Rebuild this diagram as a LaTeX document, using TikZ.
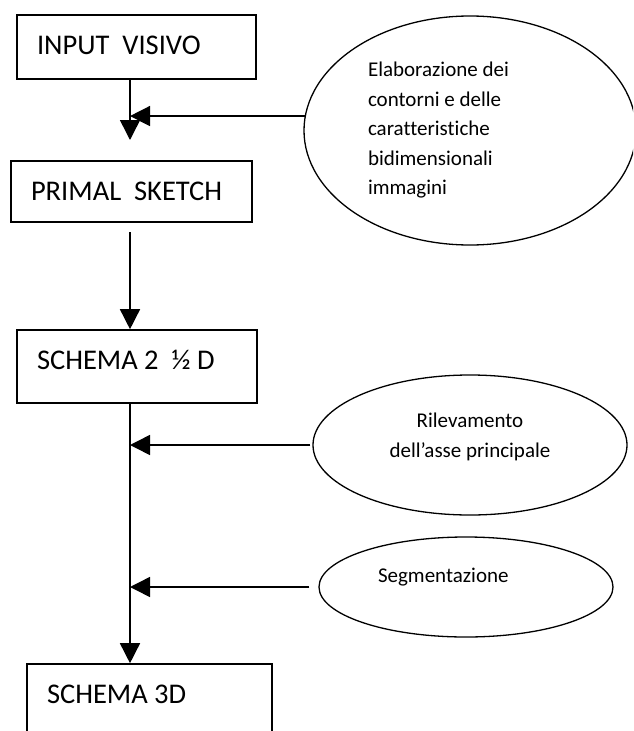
\documentclass[tikz,border=0pt]{standalone}
\usepackage{fontspec}
\setmainfont{Carlito}[Ligatures=NoCommon]
\usetikzlibrary{shapes,arrows.meta,positioning}

\begin{document}
\begin{tikzpicture}[
    x=1pt, y=-1pt,
    stage/.style={rectangle, draw=black, line width=1.6pt, inner xsep=20pt, text width=200pt, align=flush left, text height=18pt, font=\fontsize{28.5}{34}\selectfont},
    process/.style={ellipse, draw=black, line width=1.3pt, inner sep=0pt, font=\fontsize{21}{29.5}\selectfont},
    flow/.style={line width=1.5pt, -{Triangle[length=20pt,width=20pt]}}
]
\clip (0,0) rectangle (633,731);

% Stages of the pipeline
\node[stage, text width=199pt, minimum height=64pt, text depth=4pt] (input) at (136.5,47) {INPUT\ \ VISIVO};
\node[stage, text width=201pt, minimum height=61pt, text depth=1pt] (sketch) at (131.5,191.5) {PRIMAL\ \ SKETCH};
\node[stage, minimum height=73pt, text depth=13pt] (schema25) at (137,366.5) {SCHEMA 2\ \ ½ D};
\node[stage, text width=205pt, inner ysep=21pt, text depth=60pt] (schema3) at (149.5,724) {SCHEMA 3D};

% Processes feeding the stages
\node[process, minimum width=332pt, minimum height=229pt, text width=204pt, align=flush left] (contours) at (470,130.5) {
    Elaborazione dei\\
    contorni e delle\\
    caratteristiche\\
    bidimensionali\\
    immagini
};
\node[process, minimum width=314pt, minimum height=140pt, align=flush center, text depth=20pt] (axisdet) at (470,445) {
    Rilevamento\\
    dell’asse principale
};
\node[process, minimum width=294pt, minimum height=100pt, text width=176pt, align=flush left, text height=14pt, text depth=24pt] (segment) at (466,587) {Segmentazione};

% Main axis
\coordinate (axis) at (130,0);
\coordinate (tip1) at (130,140);
\coordinate (start2) at (130,232);

% Connectors
\draw[flow] (input.south -| axis) -- (tip1);
\draw[flow] (contours.175) -- (contours.175 -| axis);
\draw[flow] (start2) -- (schema25.north -| axis);
\draw[flow] (schema25.south -| axis) -- (schema3.north -| axis);
\draw[flow, shorten <=2pt] (axisdet.west) -- (axisdet.west -| axis);
\draw[flow, shorten <=9pt] (segment.west) -- (segment.west -| axis);

\end{tikzpicture}
\end{document}
